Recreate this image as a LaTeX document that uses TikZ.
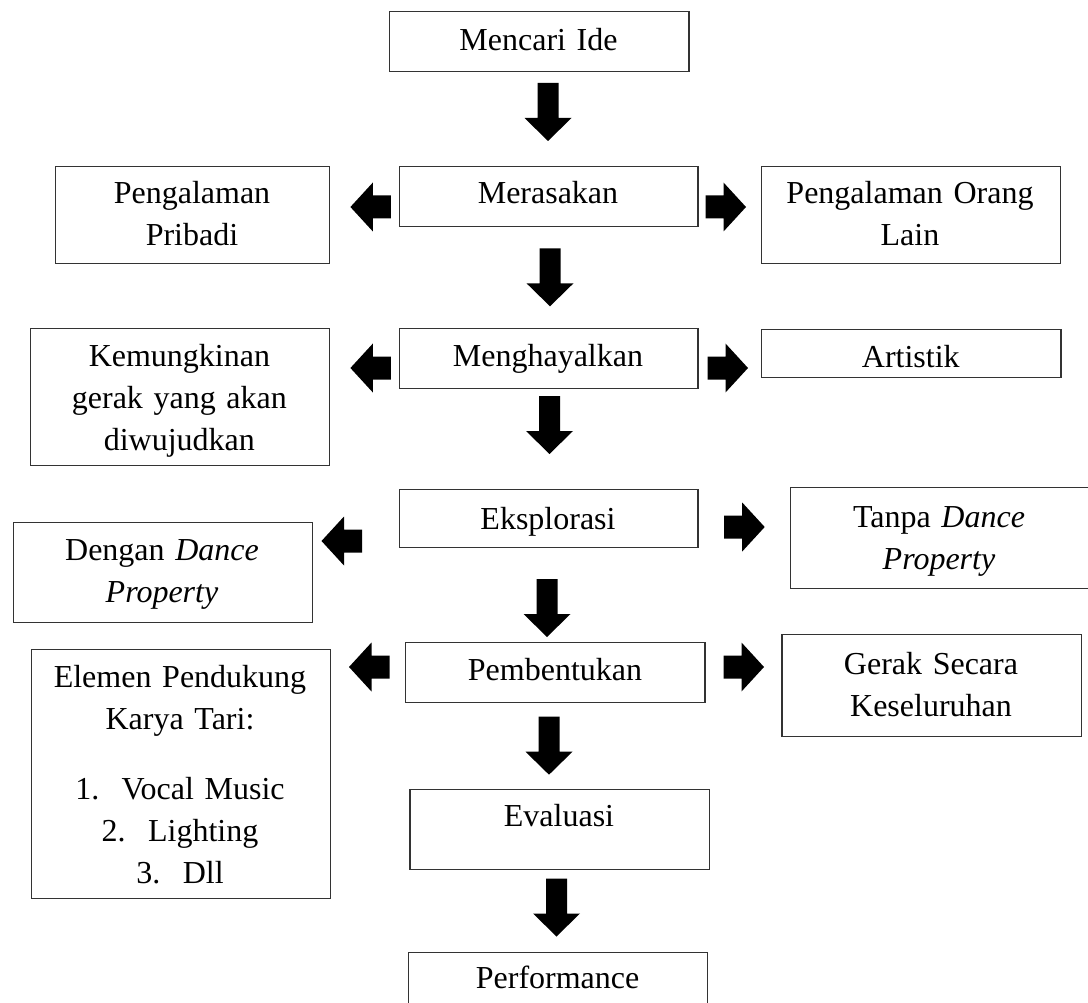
\documentclass[tikz,border=0pt]{standalone}
\usepackage{fontspec}
\setmainfont{Liberation Serif}
\begin{document}
\begin{tikzpicture}[x=1pt,y=-1pt,
  box/.style={draw=black!80, line width=1.1pt, inner sep=0pt, anchor=north west},
  txt/.style={font=\fontsize{32pt}{42pt}\selectfont, text width=300pt, align=center, anchor=base, inner sep=0pt},
  darrow/.pic={\fill (-10.5,0) -- (10.5,0) -- (10.5,35) -- (23.5,35) -- (0,58) -- (-23.5,35) -- (-10.5,35) -- cycle;},
  larrow/.pic={\fill (0,0) -- (22.5,-24.5) -- (22.5,-11.5) -- (40.5,-11.5) -- (40.5,11.5) -- (22.5,11.5) -- (22.5,24.5) -- cycle;},
  rarrow/.pic={\fill (0,0) -- (-22.5,-24.5) -- (-22.5,-11.5) -- (-40.5,-11.5) -- (-40.5,11.5) -- (-22.5,11.5) -- (-22.5,24.5) -- cycle;}
]
\useasboundingbox[fill=white] (0,0) rectangle (1088,1003);

% boxes
\node[box, minimum width=299.8pt, minimum height=60pt]   (ide)      at (388.6,10.7)  {};
\node[box, minimum width=298.4pt, minimum height=60pt]   (rasa)     at (399,165.7)   {};
\node[box, minimum width=274.2pt, minimum height=97.3pt] (pribadi)  at (54.8,165.7)  {};
\node[box, minimum width=299.1pt, minimum height=97.3pt] (orang)    at (760.6,165.7) {};
\node[box, minimum width=298.4pt, minimum height=60pt]   (hayal)    at (399,327.7)   {};
\node[box, minimum width=299.2pt, minimum height=137.3pt](mungkin)  at (29.8,327.7)  {};
\node[box, minimum width=299.1pt, minimum height=48.3pt] (artistik) at (761.3,328.7) {};
\node[box, minimum width=298.4pt, minimum height=57.4pt] (eksplor)  at (399,489.3)   {};
\node[box, minimum width=310pt,   minimum height=100.2pt](tanpa)    at (790,487.3)   {};
\node[box, minimum width=299.1pt, minimum height=100pt]  (dengan)   at (12.5,522.3)  {};
\node[box, minimum width=299.1pt, minimum height=59.4pt] (bentuk)   at (405.3,642.3) {};
\node[box, minimum width=299.1pt, minimum height=102pt]  (gerak)    at (781.4,634)   {};
\node[box, minimum width=299.1pt, minimum height=248.7pt](elemen)   at (30.5,649)    {};
\node[box, minimum width=299.1pt, minimum height=79.7pt] (evaluasi) at (409.4,789)   {};
\node[box, minimum width=299.2pt, minimum height=60pt]   (perform)  at (408,951.5)   {};

% texts
\node[txt] (ide-t)      at (538.5,50.7)  {Mencari Ide};
\node[txt] (rasa-t)     at (548,204)     {Merasakan};
\node[txt] (pribadi-t)  at (192,204)     {Pengalaman\\Pribadi};
\node[txt] (orang-t)    at (910,204)     {Pengalaman Orang\\Lain};
\node[txt] (hayal-t)    at (548,366.7)   {Menghayalkan};
\node[txt] (mungkin-t)  at (179.4,366.7) {Kemungkinan\\gerak yang akan\\diwujudkan};
\node[txt] (artistik-t) at (910.8,367.5) {Artistik};
\node[txt] (eksplor-t)  at (548,529)     {Eksplorasi};
\node[txt] (tanpa-t)    at (939,527)     {Tanpa \textit{Dance}\\\textit{Property}};
\node[txt] (dengan-t)   at (162,560)     {Dengan \textit{Dance}\\\textit{Property}};
\node[txt] (bentuk-t)   at (555,680)     {Pembentukan};
\node[txt] (gerak-t)    at (931,674)     {Gerak Secara\\Keseluruhan};
\node[txt] (elemen-t)   at (180,687)     {Elemen Pendukung\\Karya Tari:\\[28pt]1.\hspace{0.7em}Vocal Music\\2.\hspace{0.7em}Lighting\\3.\hspace{0.7em}Dll};
\node[txt] (evaluasi-t) at (559,826.7)   {Evaluasi};
\node[txt] (perform-t)  at (557.6,988.3) {Performance};

% down arrows
\pic at (548,83)    {darrow};
\pic at (550,248.3) {darrow};
\pic at (549.5,396) {darrow};
\pic at (547,579)   {darrow};
\pic at (549,716.7) {darrow};
\pic at (556.5,878.5) {darrow};

% left arrows
\pic at (350.4,207) {larrow};
\pic at (350.4,368) {larrow};
\pic at (321.5,541) {larrow};
\pic at (349,667)   {larrow};

% right arrows
\pic at (746,207)   {rarrow};
\pic at (748,368)   {rarrow};
\pic at (764.7,527) {rarrow};
\pic at (764,667)   {rarrow};
\end{tikzpicture}
\end{document}
